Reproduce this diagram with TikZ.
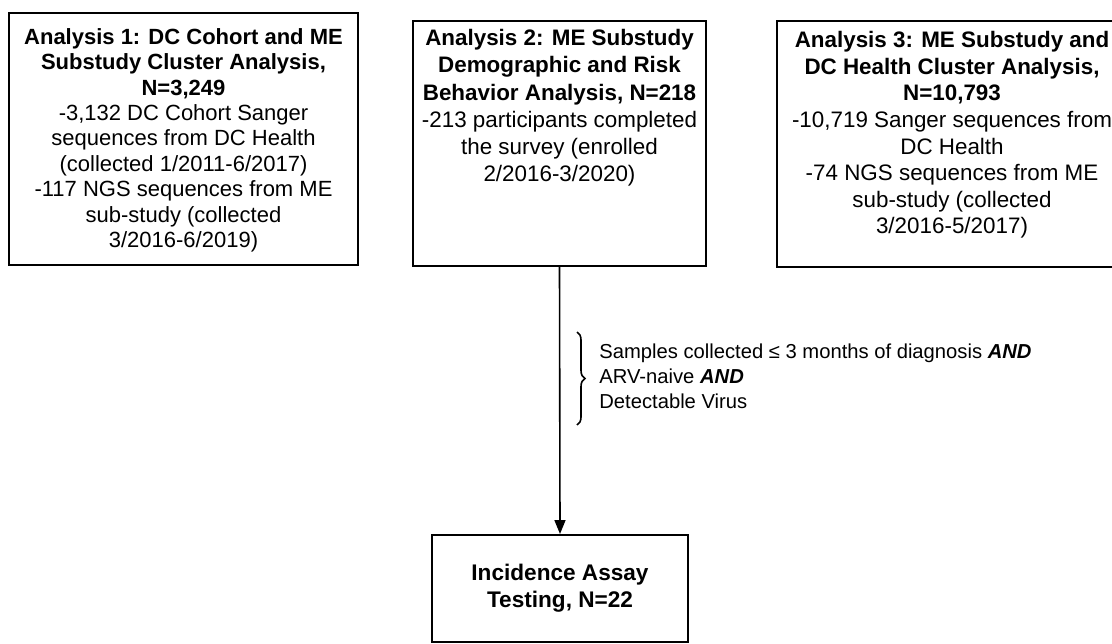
\documentclass[tikz,border=0pt]{standalone}
\usepackage{fontspec}
\setmainfont{Liberation Sans}
\usetikzlibrary{positioning,arrows.meta,decorations.pathreplacing}

\tikzset{
  studybox/.style={draw, line width=1pt, inner sep=0pt},
  boxtext/.style={inner sep=0pt, align=center, font=\fontsize{11}{12.7}\selectfont},
  crittext/.style={inner sep=0pt, align=left, anchor=north west, font=\fontsize{10.1}{12.6}\selectfont},
  flow/.style={line width=0.8pt, -{Triangle[length=7pt,width=5.5pt]}},
  critbrace/.style={line width=0.8pt, decorate, decoration={brace, amplitude=4pt}}
}

\begin{document}
\begin{tikzpicture}[x=0.5pt,y=-0.5pt]
\clip (0,0) rectangle (1112,643);
% the three analyses
\node[studybox, minimum width=174.5pt, minimum height=126pt] (a1) at (183.5,139) {};
\node[studybox, minimum width=146.5pt, minimum height=122.5pt] (a2) at (559.5,143.5) {};
\node[studybox, minimum width=175pt, minimum height=123pt] (a3) at (952,144) {};
\node[boxtext, anchor=north, below=8pt of a1.north] (t1) {%
  \textbf{Analysis 1: DC Cohort and ME}\\
  \textbf{Substudy Cluster Analysis,}\\
  \textbf{N=3,249}\\
  -3,132 DC Cohort Sanger\\
  sequences from DC Health\\
  (collected 1/2011-6/2017)\\
  -117 NGS sequences from ME\\
  sub-study (collected\\
  3/2016-6/2019)};
\node[boxtext, anchor=north, below=4.5pt of a2.north, font=\fontsize{11.2}{13.6}\selectfont] (t2) {%
  \textbf{Analysis 2: ME Substudy}\\
  \textbf{Demographic and Risk}\\
  \textbf{Behavior Analysis, N=218}\\
  -213 participants completed\\
  the survey (enrolled\\
  2/2016-3/2020)};
\node[boxtext, anchor=north, below=5.5pt of a3.north, font=\fontsize{11.2}{13.3}\selectfont] (t3) {%
  \textbf{Analysis 3: ME Substudy and}\\
  \textbf{DC Health Cluster Analysis,}\\
  \textbf{N=10,793}\\
  -10,719 Sanger sequences from\\
  DC Health\\
  -74 NGS sequences from ME\\
  sub-study (collected\\
  3/2016-5/2017)};

% outcome
\node[studybox, minimum width=128pt, minimum height=53.5pt, boxtext, font=\fontsize{11.3}{13.5}\selectfont] (inc) at (560,588.5) {%
  \textbf{Incidence Assay}\\
  \textbf{Testing, N=22}};

\draw[flow] (a2.south) -- (inc.north);

% criteria
\node[crittext] (crit) at (599,343) {%
  Samples collected ≤ 3 months of diagnosis \textbf{\textit{AND}}\\
  ARV-naive \textbf{\textit{AND}}\\
  Detectable Virus};
\draw[critbrace] (577,332) -- (577,425);
\end{tikzpicture}
\end{document}
